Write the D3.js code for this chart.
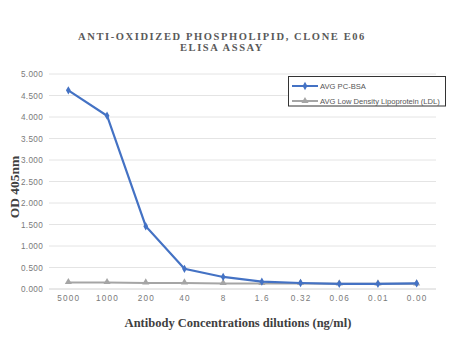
<!DOCTYPE html>
<html><head><meta charset="utf-8">
<script src="https://cdn.jsdelivr.net/npm/d3@7"></script>
<style>body{margin:0;background:#fff}svg{display:block}</style>
</head><body>
<svg id="c" width="453" height="360"></svg>
<script>
const categories = ["5000","1000","200","40","8","1.6","0.32","0.06","0.01","0.00"];
const pcBSA = [4.62, 4.03, 1.46, 0.47, 0.28, 0.17, 0.14, 0.12, 0.12, 0.13];
const ldl = [0.15, 0.15, 0.14, 0.14, 0.13, 0.13, 0.13, 0.12, 0.12, 0.12];
const yTicks = [0, 0.5, 1, 1.5, 2, 2.5, 3, 3.5, 4, 4.5, 5];
const seriesNames = ["AVG PC-BSA", "AVG Low Density Lipoprotein (LDL)"];
const colors = ["#4472c4", "#a5a5a5"];

const svg = d3.select("#c");
const pLeft = 49, pRight = 436, pTop = 74, pBottom = 289;
const x = d3.scalePoint().domain(categories).range([pLeft, pRight]).padding(0.5);
const y = d3.scaleLinear().domain([0, 5]).range([pBottom, pTop]);

// gridlines
svg.append("g").selectAll("line").data(yTicks.filter(d => d > 0)).join("line")
  .attr("x1", pLeft).attr("x2", pRight).attr("y1", d => y(d)).attr("y2", d => y(d))
  .attr("stroke", "#e4e4e4").attr("stroke-width", 1);

// y axis labels
const yAxis = d3.axisLeft(y).tickValues(yTicks).tickFormat(d3.format(".3f")).tickSize(0).tickPadding(6);
const gy = svg.append("g").attr("transform", `translate(${pLeft},0)`).call(yAxis);
gy.select(".domain").remove();
gy.selectAll("text").attr("fill", "#7a7a7a").attr("font-family", "Liberation Sans, Arial, sans-serif").attr("font-size", 8.2).attr("letter-spacing", 0.3);

// x axis
const xAxis = d3.axisBottom(x).tickSize(0).tickPadding(6);
const gx = svg.append("g").attr("transform", `translate(0,${pBottom})`).call(xAxis);
gx.select(".domain").attr("stroke", "#d0d0d0").attr("d", `M${pLeft},0H${pRight}`);
gx.selectAll("text").attr("fill", "#7a7a7a").attr("font-family", "Liberation Sans, Arial, sans-serif").attr("font-size", 8.2).attr("letter-spacing", 1.2);

// lines
const line = d3.line().x((d, i) => x(categories[i])).y(d => y(d));
const tri = d3.symbol().type(d3.symbolTriangle).size(22);
const dia = d3.symbol().type(d3.symbolDiamond).size(20);

svg.append("path").datum(ldl).attr("d", line).attr("fill", "none").attr("stroke", colors[1]).attr("stroke-width", 2);
svg.append("g").selectAll("path").data(ldl).join("path")
  .attr("d", tri).attr("transform", (d, i) => `translate(${x(categories[i])},${y(d) - 0.5})`).attr("fill", colors[1]);

svg.append("path").datum(pcBSA).attr("d", line).attr("fill", "none").attr("stroke", colors[0]).attr("stroke-width", 2.2);
svg.append("g").selectAll("path").data(pcBSA).join("path")
  .attr("d", dia).attr("transform", (d, i) => `translate(${x(categories[i])},${y(d)})`).attr("fill", colors[0]);

// legend
const lg = svg.append("g");
lg.append("rect").attr("x", 288.5).attr("y", 76.5).attr("width", 157).attr("height", 29.5)
  .attr("fill", "#fff").attr("stroke", "#333").attr("stroke-width", 1);
seriesNames.forEach((n, i) => {
  const yy = 86 + i * 15;
  lg.append("line").attr("x1", 292).attr("x2", 318).attr("y1", yy).attr("y2", yy).attr("stroke", colors[i]).attr("stroke-width", 2);
  lg.append("path").attr("d", i === 0 ? dia : tri).attr("transform", `translate(305,${yy})`).attr("fill", colors[i]);
  lg.append("text").attr("x", 320).attr("y", yy + 2.8).text(n)
    .attr("font-family", "Liberation Sans, Arial, sans-serif").attr("font-size", 7.6).attr("fill", "#555");
});

// title
const tt = svg.append("text").attr("text-anchor", "middle").attr("font-family", "Liberation Serif, Times New Roman, serif")
  .attr("font-weight", "bold").attr("font-size", 10.5).attr("fill", "#595959").attr("letter-spacing", 1.6);
tt.append("tspan").attr("x", 222).attr("y", 40).text("ANTI-OXIDIZED PHOSPHOLIPID, CLONE E06");
tt.append("tspan").attr("x", 222).attr("y", 51).text("ELISA ASSAY");

// axis titles
svg.append("text").attr("transform", "translate(19,187) rotate(-90)").attr("text-anchor", "middle")
  .attr("font-family", "Liberation Serif, Times New Roman, serif").attr("font-weight", "bold").attr("font-size", 13.5).attr("fill", "#404040")
  .text("OD 405nm");
svg.append("text").attr("x", 238).attr("y", 327).attr("text-anchor", "middle")
  .attr("font-family", "Liberation Serif, Times New Roman, serif").attr("font-weight", "bold").attr("font-size", 12.5).attr("fill", "#404040")
  .text("Antibody Concentrations dilutions (ng/ml)");
</script>
</body></html>
